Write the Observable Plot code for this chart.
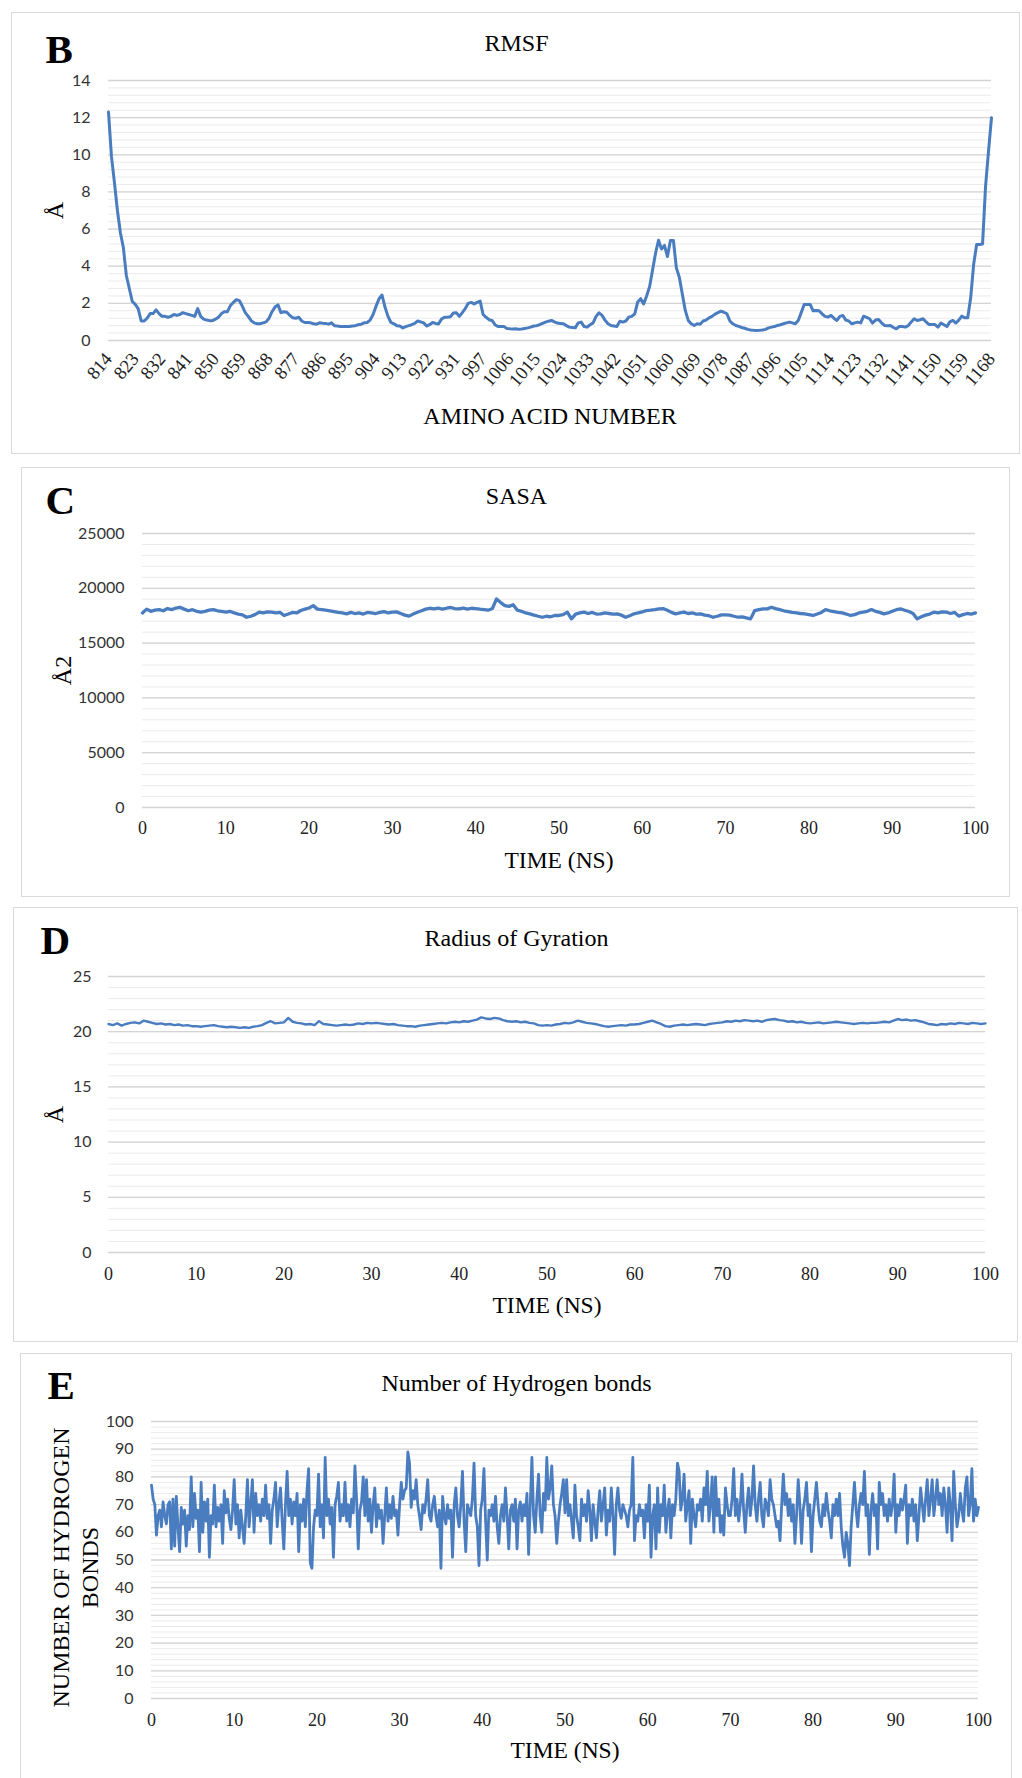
<!DOCTYPE html>
<html>
<head>
<meta charset="utf-8">
<script src="https://cdn.jsdelivr.net/npm/d3@7"></script>
<script src="https://cdn.jsdelivr.net/npm/@observablehq/plot@0.6"></script>
<style>
html, body { margin: 0; padding: 0; background: #fff; }
body { width: 1022px; height: 1778px; position: relative; overflow: hidden; color: #000; }
.panel { position: absolute; border: 1px solid #d9d9d9; box-sizing: border-box; background: #fff; overflow: hidden; }
.panel svg { position: absolute; left: 0; top: 0; }
</style>
</head>
<body>
<div id="panelB" class="panel"></div>
<div id="panelC" class="panel"></div>
<div id="panelD" class="panel"></div>
<div id="panelE" class="panel"></div>
<script>
// ---------- DATA ----------
// RMSF: residue-number tick labels (one every 9 residues on the category axis)
const rmsfTickLabels = [814, 823, 832, 841, 850, 859, 868, 877, 886, 895, 904, 913, 922, 931,
  997, 1006, 1015, 1024, 1033, 1042, 1051, 1060, 1069, 1078, 1087, 1096, 1105, 1114, 1123,
  1132, 1141, 1150, 1159, 1168];
// RMSF values (Å), one per residue category
const rmsfValues = [
  12.3, 9.9, 8.5, 7.0, 5.8, 5.0, 3.5, 2.8, 2.1, 1.95,
  1.7, 1.05, 1.05, 1.2, 1.45, 1.45, 1.65, 1.45, 1.3, 1.3,
  1.25, 1.3, 1.4, 1.35, 1.4, 1.5, 1.45, 1.4, 1.35, 1.3,
  1.72, 1.3, 1.15, 1.1, 1.07, 1.07, 1.15, 1.25, 1.45, 1.55,
  1.55, 1.88, 2.05, 2.2, 2.15, 1.85, 1.5, 1.3, 1.07, 0.95,
  0.9, 0.9, 0.95, 1.0, 1.2, 1.55, 1.8, 1.92, 1.5, 1.55,
  1.52, 1.35, 1.22, 1.2, 1.25, 1.05, 0.97, 0.97, 0.95, 0.9,
  0.88, 0.95, 0.93, 0.92, 0.88, 0.95, 0.8, 0.78, 0.75, 0.75,
  0.75, 0.75, 0.78, 0.8, 0.85, 0.88, 0.95, 0.97, 1.1, 1.4,
  1.85, 2.25, 2.45, 1.8, 1.3, 0.97, 0.9, 0.8, 0.78, 0.68,
  0.75, 0.8, 0.85, 0.92, 1.05, 1.0, 0.95, 0.78, 0.85, 0.97,
  0.92, 0.89, 1.15, 1.25, 1.25, 1.28, 1.48, 1.5, 1.3, 1.5,
  1.72, 2.0, 2.05, 1.97, 2.05, 2.12, 1.4, 1.25, 1.12, 1.08,
  0.85, 0.75, 0.75, 0.75, 0.65, 0.63, 0.62, 0.63, 0.6, 0.62,
  0.65, 0.68, 0.72, 0.78, 0.8, 0.85, 0.92, 0.99, 1.04, 1.08,
  1.0, 0.94, 0.92, 0.9, 0.8, 0.72, 0.7, 0.68, 0.95, 0.99,
  0.75, 0.72, 0.85, 0.95, 1.3, 1.49, 1.35, 1.1, 0.9, 0.81,
  0.78, 0.75, 1.04, 0.99, 1.05, 1.26, 1.3, 1.44, 2.07, 2.25,
  1.97, 2.4, 2.9, 3.8, 4.7, 5.4, 4.93, 5.12, 4.52, 5.39,
  5.39, 3.91, 3.41, 2.5, 1.62, 1.08, 0.9, 0.81, 0.9, 0.88,
  1.05, 1.1, 1.22, 1.3, 1.42, 1.5, 1.58, 1.52, 1.44, 1.05,
  0.9, 0.81, 0.76, 0.7, 0.66, 0.6, 0.57, 0.55, 0.54, 0.55,
  0.57, 0.6, 0.68, 0.72, 0.75, 0.81, 0.85, 0.9, 0.95, 0.99,
  0.95, 0.9, 1.08, 1.5, 1.94, 1.94, 1.94, 1.6, 1.62, 1.6,
  1.44, 1.3, 1.26, 1.35, 1.2, 1.08, 1.3, 1.35, 1.1, 1.05,
  0.9, 0.95, 0.99, 0.95, 1.31, 1.25, 1.17, 0.94, 1.1, 1.13,
  0.95, 0.81, 0.8, 0.81, 0.7, 0.63, 0.75, 0.75, 0.72, 0.8,
  1.0, 1.17, 1.08, 1.12, 1.17, 1.0, 0.86, 0.86, 0.86, 0.72,
  0.94, 0.85, 0.75, 1.0, 1.08, 0.94, 1.1, 1.31, 1.22, 1.22,
  2.3, 4.1, 5.17, 5.17, 5.2, 8.3, 10.2, 12.0
];

// SASA (Å2), sampled every 0.5 ns from 0 to 100 ns
const sasaStepNs = 0.5;
const sasaValues = [
  17750, 18100, 17900, 18000, 18050, 17950, 18150, 18050, 18200, 18270,
  18100, 17950, 18050, 17900, 17820, 17900, 18000, 18060, 17950, 17900,
  17820, 17900, 17750, 17650, 17580, 17360, 17450, 17600, 17820, 17750,
  17850, 17820, 17750, 17800, 17520, 17650, 17800, 17750, 17970, 18100,
  18200, 18420, 18100, 18060, 18000, 17950, 17880, 17800, 17750, 17670,
  17800, 17700, 17760, 17650, 17800, 17760, 17700, 17800, 17880, 17750,
  17820, 17850, 17700, 17550, 17460, 17650, 17820, 17950, 18100, 18180,
  18120, 18200, 18100, 18180, 18250, 18150, 18120, 18200, 18100, 18180,
  18150, 18100, 18060, 18000, 18150, 19030, 18700, 18420, 18350, 18500,
  18000, 17900, 17750, 17670, 17550, 17450, 17360, 17450, 17400, 17520,
  17520, 17600, 17820, 17210, 17650, 17750, 17820, 17700, 17800, 17650,
  17670, 17750, 17700, 17650, 17670, 17550, 17360, 17500, 17670, 17750,
  17850, 17970, 18000, 18050, 18120, 18150, 18000, 17800, 17670, 17750,
  17820, 17700, 17750, 17650, 17670, 17550, 17500, 17360, 17450, 17580,
  17580, 17550, 17450, 17360, 17400, 17300, 17210, 17970, 18050, 18120,
  18120, 18270, 18150, 18050, 17950, 17880, 17800, 17750, 17700, 17670,
  17600, 17520, 17650, 17800, 18060, 17950, 17880, 17800, 17750, 17650,
  17520, 17600, 17750, 17820, 17900, 18060, 17900, 17800, 17670, 17750,
  17900, 18050, 18120, 18000, 17880, 17700, 17210, 17400, 17550, 17650,
  17820, 17750, 17850, 17820, 17700, 17800, 17460, 17600, 17700, 17650,
  17760
];

// Radius of gyration (Å), sampled every 0.5 ns
const rgStepNs = 0.5;
const rgValues = [
  20.7, 20.6, 20.75, 20.55, 20.7, 20.8, 20.85, 20.75, 21.0, 20.9,
  20.8, 20.7, 20.75, 20.65, 20.7, 20.6, 20.65, 20.55, 20.6, 20.5,
  20.5, 20.45, 20.5, 20.55, 20.6, 20.5, 20.45, 20.4, 20.45, 20.4,
  20.35, 20.4, 20.35, 20.45, 20.5, 20.6, 20.8, 20.95, 20.75, 20.8,
  20.85, 21.25, 20.9, 20.8, 20.75, 20.65, 20.7, 20.6, 20.95, 20.7,
  20.65, 20.6, 20.55, 20.6, 20.65, 20.6, 20.65, 20.75, 20.7, 20.8,
  20.75, 20.8, 20.75, 20.7, 20.65, 20.7, 20.6, 20.55, 20.5, 20.5,
  20.45, 20.55, 20.6, 20.65, 20.7, 20.75, 20.8, 20.75, 20.85, 20.9,
  20.85, 20.95, 20.9, 21.0, 21.1, 21.3, 21.2, 21.15, 21.25, 21.2,
  21.05, 20.95, 20.9, 20.95, 20.85, 20.9, 20.8, 20.75, 20.6, 20.55,
  20.6, 20.55, 20.65, 20.7, 20.8, 20.75, 20.85, 21.0, 20.9, 20.8,
  20.75, 20.7, 20.6, 20.5, 20.45, 20.5, 20.55, 20.6, 20.55, 20.65,
  20.65, 20.7, 20.8, 20.9, 21.0, 20.85, 20.7, 20.5, 20.45, 20.55,
  20.6, 20.65, 20.6, 20.65, 20.7, 20.65, 20.6, 20.7, 20.75, 20.8,
  20.85, 20.95, 20.9, 21.0, 20.95, 21.05, 21.0, 20.95, 21.0, 20.9,
  21.05, 21.1, 21.15, 21.05, 21.0, 20.9, 20.95, 20.85, 20.9, 20.8,
  20.75, 20.8, 20.85, 20.75, 20.8, 20.85, 20.9, 20.85, 20.8, 20.75,
  20.7, 20.75, 20.8, 20.75, 20.8, 20.8, 20.85, 20.9, 20.85, 21.0,
  21.15, 21.05, 21.1, 21.0, 21.05, 20.95, 20.85, 20.7, 20.65, 20.6,
  20.7, 20.65, 20.75, 20.7, 20.8, 20.75, 20.7, 20.8, 20.75, 20.7,
  20.75
];

// Number of hydrogen bonds, sampled every 0.2 ns
const hbondStepNs = 0.2;
const hbondValues = [
  77,72,70,59,66, 68,62,71,66,63,
  70,71,54,72,55, 73,62,53,69,63,
  68,55,66,61,80, 62,74,65,68,53,
  78,60,71,64,72, 51,66,63,77,62,
  69,64,70,56,75, 67,72,65,61,68,
  79,63,70,58,68, 62,56,66,79,62,
  70,79,60,74,66, 70,64,72,66,77,
  65,70,56,68,72, 78,62,70,76,64,
  54,70,82,66,72, 63,71,66,74,53,
  70,64,72,62,75, 83,49,47,62,68,
  66,81,62,70,58, 87,66,72,63,69,
  51,70,73,78,64, 70,66,78,64,70,
  62,72,67,84,72, 54,68,71,80,66,
  79,64,72,60,70, 76,62,70,65,68,
  56,66,76,64,70, 65,73,66,68,59,
  70,78,72,75,76, 89,85,69,75,72,
  79,70,66,61,70, 67,72,79,66,64,
  70,73,66,62,68, 47,73,66,63,70,
  65,68,51,70,76, 66,62,70,82,64,
  53,70,68,66,72, 85,66,62,48,68,
  72,83,64,50,68, 66,70,64,73,62,
  56,66,70,64,76, 66,54,68,70,64,
  72,54,68,71,64, 70,66,74,52,70,
  87,66,60,72,81, 66,60,74,68,87,
  72,76,84,70,66, 56,64,70,74,79,
  67,79,66,70,64, 58,77,66,62,57,
  72,66,70,64,75, 68,57,70,64,58,
  68,75,64,70,76, 59,68,64,76,66,
  52,70,76,68,65, 70,68,66,62,68,
  70,87,57,66,64, 70,66,68,58,70,
  64,77,51,66,70, 54,76,60,70,66,
  77,60,68,72,58, 70,66,72,85,82,
  68,72,81,64,70, 75,56,72,66,62,
  70,68,72,64,76, 70,82,64,70,80,
  60,80,66,72,60, 66,59,76,70,66,
  66,72,83,66,72, 64,70,81,68,60,
  70,76,66,72,84, 70,64,72,78,66,
  62,72,70,66,79, 72,70,66,62,64,
  57,70,81,70,74, 66,72,64,70,56,
  66,79,70,56,68, 72,78,66,70,53,
  66,72,78,70,64, 62,70,66,74,68,
  64,58,70,66,72, 66,74,62,55,51,
  60,56,48,62,70, 78,68,62,70,74,
  70,82,66,70,52, 68,74,66,70,54,
  78,70,74,66,70, 64,72,66,70,81,
  60,70,66,72,68, 72,77,56,70,66,
  72,64,70,57,66, 76,70,64,72,79,
  66,72,79,66,72, 79,70,74,66,76,
  70,60,76,70,57, 82,70,62,66,74,
  68,64,76,80,66, 70,83,64,72,66,
  69
];

// Axis tick values
const timeTicks = [0, 10, 20, 30, 40, 50, 60, 70, 80, 90, 100];
const rmsfYTicks = [0, 2, 4, 6, 8, 10, 12, 14];
const sasaYTicks = [0, 5000, 10000, 15000, 20000, 25000];
const rgYTicks = [0, 5, 10, 15, 20, 25];
const hbondYTicks = [0, 10, 20, 30, 40, 50, 60, 70, 80, 90, 100];

// ---------- RENDER ----------
const serif = "'Liberation Serif', 'Times New Roman', Times, serif";
const sans = "Lato, 'Open Sans', 'Liberation Sans', sans-serif";
const blue = "#4a7cc0";

function minorTicks(max, step) {
  return d3.range(0, max + step / 2, step);
}

function makePanel(cfg) {
  const el = document.getElementById(cfg.id);
  const [left, top, w, h] = cfg.box;
  Object.assign(el.style, {left: left + "px", top: top + "px", width: w + "px", height: h + "px"});
  const W = w - 2, H = h - 2;
  const [mL, mR, mT, mB] = cfg.margins;
  const marks = [
    Plot.ruleY(cfg.minor, {stroke: "#ebebeb", strokeWidth: 1}),
    Plot.ruleY(cfg.yTicks, {stroke: "#d4d4d4", strokeWidth: 1.3}),
    Plot.axisY(cfg.yTicks, {
      tickSize: 0, tickPadding: cfg.yPad, fontSize: 16, fontFamily: sans,
      color: "#333", tickFormat: d => String(d), label: null
    }),
    Plot.axisX(cfg.xTicks, Object.assign({
      tickSize: 0, tickPadding: cfg.xPad, fontSize: 18, fontFamily: serif,
      color: "#222", tickFormat: d => String(d), label: null
    }, cfg.xAxisExtra || {})),
    Plot.lineY(cfg.values, {
      x: cfg.x, y: d => d, stroke: blue, strokeWidth: cfg.sw,
      strokeLinejoin: "round", strokeLinecap: "round"
    }),
    Plot.text([cfg.letter], {
      text: d => d, frameAnchor: "top-left", dx: cfg.letterPos[0], dy: cfg.letterPos[1],
      textAnchor: "start", lineAnchor: "bottom", fontSize: 41, fontWeight: "bold",
      fontFamily: serif, fill: "#000"
    }),
    Plot.text([cfg.title], {
      text: d => d, frameAnchor: "top", dx: cfg.titlePos[0], dy: cfg.titlePos[1],
      textAnchor: "middle", lineAnchor: "bottom", fontSize: 24, fontFamily: serif, fill: "#000"
    }),
    Plot.text([cfg.xLabel], {
      text: d => d, frameAnchor: "bottom", dx: cfg.xLabelPos[0], dy: cfg.xLabelPos[1],
      textAnchor: "middle", lineAnchor: "bottom", fontSize: cfg.xLabelSize || 23.5,
      fontFamily: serif, fill: "#000"
    }),
    Plot.text([cfg.yLabel], {
      text: d => d, frameAnchor: "left", dx: cfg.yLabelPos[0], dy: cfg.yLabelPos[1],
      rotate: -90, textAnchor: "middle", lineAnchor: "bottom", lineHeight: 1.2,
      fontSize: 24, fontFamily: serif, fill: "#000"
    })
  ];
  const chart = Plot.plot({
    width: W, height: H,
    marginLeft: mL, marginRight: mR, marginTop: mT, marginBottom: mB,
    style: {background: "transparent", overflow: "visible"},
    x: {type: "linear", domain: cfg.xDomain},
    y: {type: "linear", domain: cfg.yDomain},
    marks
  });
  el.appendChild(chart);
}

// Panel B: RMSF
makePanel({
  id: "panelB", box: [11, 12, 1009, 442], margins: [96, 28, 67, 113],
  xDomain: [0, rmsfValues.length - 1], yDomain: [0, 14],
  yTicks: rmsfYTicks, minor: minorTicks(14, 0.4), yPad: 18,
  xTicks: d3.range(0, rmsfValues.length, 9), xPad: 15,
  xAxisExtra: {
    tickRotate: -50, fontSize: 18.5,
    tickFormat: d => String(rmsfTickLabels[Math.round(d / 9)])
  },
  values: rmsfValues, x: (d, i) => i, sw: 3,
  letter: "B", letterPos: [-63, -18],
  title: "RMSF", titlePos: [-33.5, -30],
  xLabel: "AMINO ACID NUMBER", xLabelPos: [0, 83], xLabelSize: 24,
  yLabel: "Å", yLabelPos: [-46, 0]
});

// Panel C: SASA
makePanel({
  id: "panelC", box: [21, 467, 989, 430], margins: [120, 34, 65, 89],
  xDomain: [0, 100], yDomain: [0, 25000],
  yTicks: sasaYTicks, minor: minorTicks(25000, 1000), yPad: 18,
  xTicks: timeTicks, xPad: 14,
  values: sasaValues, x: (d, i) => i * sasaStepNs, sw: 3.3,
  letter: "C", letterPos: [-97, -20],
  title: "SASA", titlePos: [-42.5, -30],
  xLabel: "TIME (NS)", xLabelPos: [0, 60],
  yLabel: "Å2", yLabelPos: [-72, 0]
});

// Panel D: Radius of Gyration
makePanel({
  id: "panelD", box: [13, 907, 1005, 435], margins: [94, 32, 68, 89],
  xDomain: [0, 100], yDomain: [0, 25],
  yTicks: rgYTicks, minor: minorTicks(25, 1), yPad: 17,
  xTicks: timeTicks, xPad: 15,
  values: rgValues, x: (d, i) => i * rgStepNs, sw: 2.4,
  letter: "D", letterPos: [-68, -23],
  title: "Radius of Gyration", titlePos: [-30.5, -31],
  xLabel: "TIME (NS)", xLabelPos: [0, 60],
  yLabel: "Å", yLabelPos: [-46, 0]
});

// Panel E: Number of Hydrogen bonds
makePanel({
  id: "panelE", box: [20, 1353, 992, 446], margins: [130, 33, 67, 100],
  xDomain: [0, 100], yDomain: [0, 100],
  yTicks: hbondYTicks, minor: minorTicks(100, 2), yPad: 18,
  xTicks: timeTicks, xPad: 15,
  values: hbondValues, x: (d, i) => i * hbondStepNs, sw: 2.8,
  letter: "E", letterPos: [-104, -23],
  title: "Number of Hydrogen bonds", titlePos: [-48.5, -31],
  xLabel: "TIME (NS)", xLabelPos: [0, 59],
  yLabel: "NUMBER OF HYDROGEN\nBONDS", yLabelPos: [-54, 7.5]
});
</script>
</body>
</html>
